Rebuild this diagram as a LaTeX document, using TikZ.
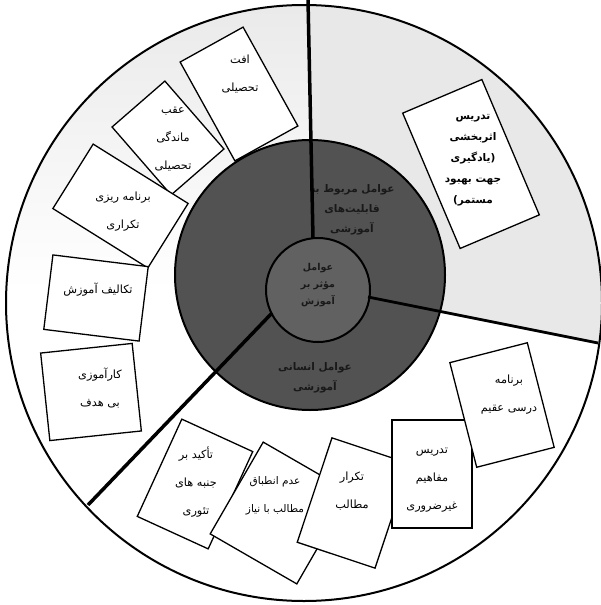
\documentclass[tikz,border=0pt]{standalone}
\usepackage{fontspec}
\TeXXeTstate=1
\newfontfamily\arabicfont[Script=Arabic]{DejaVu Sans}
\newcommand{\fa}[1]{\beginR #1\endR}
\begin{document}
\begin{tikzpicture}[x=1pt,y=-1pt,
  boxs/.style={draw=black,line width=1.3pt,fill=white,inner sep=0pt,outer sep=0pt},
  txt/.style={align=center,inner sep=0pt,font=\arabicfont\fontsize{11.3}{28}\selectfont},
  darktxt/.style={align=center,inner sep=0pt,text=black!90,font=\arabicfont\bfseries\fontsize{10.5}{20}\selectfont},
  ring/.style={circle,draw=black,line width=2pt,inner sep=0pt},
  spoke/.style={draw=black,line width=3.5pt},
]
\fill[white] (0,0) rectangle (601,605);
\useasboundingbox (0,0) rectangle (601,605);
\coordinate (O) at (304,303);
\coordinate (M) at (310,275);
\coordinate (C) at (318,290);
% light stipple of the outer ring
\begin{scope}
  \clip (O) circle (297);
  \fill[black!9] (318,290) -- (308,-20) -- (640,-20) -- (640,351.4) -- (368,297) -- cycle;
  \shade[top color=black!9,bottom color=white] (318,290) -- (308,-20) -- (-20,-20) -- (-20,290) -- cycle;
\end{scope}
% boxes
\node[boxs,rotate=29,minimum width=72pt,minimum height=113pt] (bA) at (239,94) {};
\node[boxs,rotate=41,minimum width=70pt,minimum height=90pt] (bB) at (168,138) {};
\node[boxs,rotate=-32,minimum width=112pt,minimum height=76pt] (bC) at (120.5,206) {};
\node[boxs,rotate=-7,minimum width=96pt,minimum height=75pt] (bD) at (96,298) {};
\node[boxs,rotate=6,minimum width=92pt,minimum height=88pt] (bE) at (91,392) {};
\node[boxs,rotate=23,minimum width=86pt,minimum height=147pt] (bF) at (471,164) {};
\node[boxs,rotate=-24.6,minimum width=78pt,minimum height=107pt] (bK) at (195,484) {};
\node[boxs,rotate=-30,minimum width=100pt,minimum height=106pt] (bJ) at (280,513) {};
\node[boxs,rotate=-18.4,minimum width=82pt,minimum height=110pt] (bI) at (353.5,503) {};
\node[boxs,rotate=0,minimum width=80pt,minimum height=108pt] (bH) at (432,474) {};
\node[boxs,rotate=14.4,minimum width=80pt,minimum height=108pt] (bG) at (502,405) {};
% box texts
\node[txt] (tA) at (240,74) {\fa{افت}\\\fa{تحصیلی}};
\node[txt] (tB) at (173,139) {\fa{عقب}\\\fa{ماندگی}\\\fa{تحصیلی}};
\node[txt] (tC) at (123,212) {\fa{برنامه ریزی}\\\fa{تکراری}};
\node[txt] (tD) at (98,290) {\fa{تکالیف آموزش}};
\node[txt] (tE) at (100,388) {\fa{کارآموزی}\\\fa{بی هدف}};
\node[txt,font=\arabicfont\bfseries\fontsize{10.5}{21}\selectfont] (tF) at (473,160) {\fa{تدریس}\\\fa{اثربخشی}\\\fa{(یادگیری}\\\fa{جهت بهبود}\\\fa{مستمر)}};
\node[txt] (tG) at (509,395) {\fa{برنامه}\\\fa{درسی عقیم}};
\node[txt] (tH) at (432,480) {\fa{تدریس}\\\fa{مفاهیم}\\\fa{غیرضروری}};
\node[txt] (tI) at (352,491) {\fa{تکرار}\\\fa{مطالب}};
\node[txt,font=\arabicfont\fontsize{10.5}{28}\selectfont] (tJ) at (275,496) {\fa{عدم انطباق}\\\fa{مطالب با نیاز}};
\node[txt] (tK) at (196,482) {\fa{تأکید بر}\\\fa{جنبه های}\\\fa{تئوری}};
% dark circles
\node[ring,fill=black!68,minimum size=270pt] (mid) at (M) {};
\node[ring,fill=black!62,minimum size=104pt] (inner) at (C) {};
\node[darktxt] (mtop) at (352,210) {\fa{عوامل مربوط به}\\\fa{قابلیت‌های}\\\fa{آموزشی}};
\node[darktxt] (mbot) at (315,378) {\fa{عوامل انسانی}\\\fa{آموزشی}};
\node[darktxt,font=\arabicfont\bfseries\fontsize{9.5}{17}\selectfont] (mc) at (318,285) {\fa{عوامل}\\\fa{مؤثر بر}\\\fa{آموزش}};
% spokes
\coordinate (v1) at (308,0);
\coordinate (v2) at (313,238);
\coordinate (r1) at (368,297);
\coordinate (r2) at (598,343);
\coordinate (l1) at (272,313);
\coordinate (l2) at (88,505);
\draw[spoke] (v1) -- (v2);
\draw[spoke,line width=2.8pt] (r1) -- (r2);
\draw[spoke] (l1) -- (l2);
% outer circle
\node[ring,minimum size=596pt] (outer) at (O) {};
\end{tikzpicture}
\end{document}
